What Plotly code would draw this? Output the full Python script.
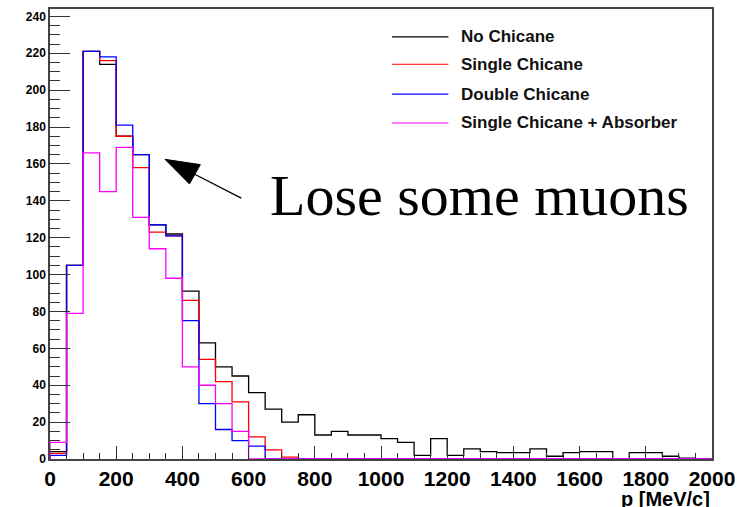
import plotly.graph_objects as go

# Momentum bins: 50 MeV/c wide from 0 to 2000 MeV/c
bin_edges = list(range(0, 2001, 50))

no_chicane = [4, 105, 221, 214, 175, 165, 127, 122, 91, 63,
              50, 45, 36, 27, 20, 24, 13, 15, 13, 13,
              11, 9, 2, 11, 2, 5.5, 4, 3.5, 3.5, 5.5,
              1.5, 3.5, 4, 4, 0, 3.5, 3.5, 1.5, 0.5, 0]
single_chicane = [3, 105, 221, 216, 175, 158, 123, 121, 86, 54,
                  42, 31, 12, 5, 1, 0, 0, 0, 0, 0,
                  0, 0, 0, 0, 0, 0, 0, 0, 0, 0,
                  0, 0, 0, 0, 0, 0, 0, 0, 0, 0]
double_chicane = [2, 105, 221, 218, 181, 165, 127, 121, 75, 30,
                  16, 10, 7, 0, 0, 0, 0, 0, 0, 0,
                  0, 0, 0, 0, 0, 0, 0, 0, 0, 0,
                  0, 0, 0, 0, 0, 0, 0, 0, 0, 0]
single_absorber = [9, 79, 166, 145, 169, 131, 114, 98, 50, 40,
                   30, 15, 0, 0, 0, 0, 0, 0, 0, 0,
                   0, 0, 0, 0, 0, 0, 0, 0, 0, 0,
                   0, 0, 0, 0, 0, 0, 0, 0, 0, 0]

series_names = ["No Chicane", "Single Chicane", "Double Chicane",
                "Single Chicane + Absorber"]
series_values = [no_chicane, single_chicane, double_chicane, single_absorber]
series_colors = ["#000000", "#ff0000", "#0000ff", "#ff00ff"]

W, H = 742, 507
ML, MR, MT, MB = 50, 24, 7, 48
PW, PH = W - ML - MR, H - MT - MB


def px_x(px):
    return (px - ML) / PW


def px_y(py):
    return (H - MB - py) / PH


fig = go.Figure()

# Step-outline histograms
for name, vals, col in zip(series_names, series_values, series_colors):
    xs = [bin_edges[0]] + bin_edges
    ys = [0] + vals + [vals[-1]]
    fig.add_trace(go.Scatter(
        x=xs, y=ys, mode="lines", name=name,
        line=dict(color=col, width=1.3, shape="hv"),
        showlegend=False, hoverinfo="skip",
    ))

overlay = dict(xaxis="x2", yaxis="y2", showlegend=False, hoverinfo="skip")

annotations = []

# Legend block
legend_rows = [35, 62.5, 92.5, 121.5]
for name, col, ry in zip(series_names, series_colors, legend_rows):
    fig.add_trace(go.Scatter(x=[px_x(395), px_x(452)], y=[px_y(ry), px_y(ry)],
                             mode="lines", line=dict(color=col, width=1.2), **overlay))
    annotations.append(dict(xref="paper", yref="paper", x=px_x(463), y=px_y(ry),
                            xanchor="left", yanchor="middle", showarrow=False,
                            text=name,
                            font=dict(family="Liberation Sans", size=17,
                                      weight="bold", color="#111")))

# Arrow pointing at the depleted peak
head = [(166, 158), (201.7, 163.3), (190.7, 182.7), (166, 158)]
fig.add_trace(go.Scatter(x=[px_x(p[0]) for p in head], y=[px_y(p[1]) for p in head],
                         mode="lines", fill="toself", fillcolor="black",
                         line=dict(color="black", width=1), **overlay))
fig.add_trace(go.Scatter(x=[px_x(195), px_x(243)], y=[px_y(172.5), px_y(197)],
                         mode="lines", line=dict(color="black", width=1.3), **overlay))

annotations.append(dict(xref="paper", yref="paper", x=px_x(483), y=px_y(194),
                        xanchor="center", yanchor="middle", showarrow=False,
                        text="Lose some muons",
                        font=dict(family="Liberation Serif", size=58, color="black")))

annotations.append(dict(xref="paper", yref="paper", x=1.0, y=px_y(499),
                        xanchor="right", yanchor="middle", showarrow=False,
                        text="p [MeV/c]",
                        font=dict(family="Liberation Sans", size=20,
                                  weight="bold", color="black")))

x_font = dict(family="Liberation Sans", size=21, weight="bold", color="black")
y_font = dict(family="Liberation Sans", size=12, weight="bold", color="black")

fig.update_layout(
    xaxis=dict(
        range=[0, 2000], tick0=0, dtick=200, ticks="inside", ticklen=13,
        tickwidth=1.3, tickcolor="#333", tickfont=x_font,
        minor=dict(dtick=50, ticks="inside", ticklen=6, tickwidth=1.3, tickcolor="#333"),
        showgrid=False, zeroline=False, showline=True, linecolor="#444",
        linewidth=1.5, mirror=True,
    ),
    yaxis=dict(
        range=[0, 244], tick0=0, dtick=20, ticks="inside", ticklen=20,
        tickwidth=1.3, tickcolor="#333", tickfont=y_font,
        minor=dict(dtick=5, ticks="inside", ticklen=10, tickwidth=1.3, tickcolor="#333"),
        showgrid=False, zeroline=False, showline=True, linecolor="#444",
        linewidth=1.5, mirror=True,
    ),
    xaxis2=dict(overlaying="x", anchor="y2", range=[0, 1], visible=False),
    yaxis2=dict(overlaying="y", anchor="x2", range=[0, 1], visible=False),
    width=W, height=H, margin=dict(l=ML, r=MR, t=MT, b=MB),
    plot_bgcolor="white", paper_bgcolor="white",
    annotations=annotations, showlegend=False,
)

fig.write_html("out.html")
